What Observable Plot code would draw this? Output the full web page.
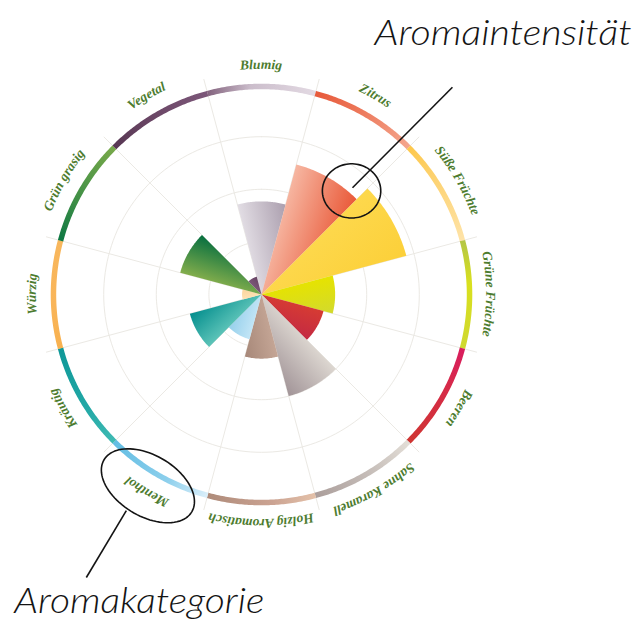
<!DOCTYPE html>
<html><head><meta charset="utf-8">
<script src="https://cdn.jsdelivr.net/npm/d3@7"></script>
<script src="https://cdn.jsdelivr.net/npm/@observablehq/plot@0.6"></script>
<style>body{margin:0;background:#fff}#chart{width:635px;height:644px}</style>
</head><body><div id="chart"></div>
<script>
// ---- data ----
const categories = ["Blumig","Zitrus","Süße Früchte","Grüne Früchte","Beeren","Sahne Karamell","Holzig Aromatisch","Menthol","Kräutig","Würzig","Grün grasig","Vegetal"];
const intensity = [1.77, 2.56, 2.85, 1.40, 1.22, 2.00, 1.22, 0.88, 1.41, 0.37, 1.60, 0.35];
const gridLevels = [1, 2, 3];
const barLight = ["#e1dce3","#f6b5a0","#fdd84c","#e6e300","#d63b33","#dcd6d0","#c4a595","#c2e5f6","#5cc3b8","#fee1b3","#82ad4c","#7c5779"];
const barDark  = ["#aea2b1","#ea5d3d","#fcd03a","#d3da2c","#c42a42","#a4979a","#a8897a","#98d1ec","#07908f","#fbd69f","#0b7140","#684464"];
const ringStart = ["#84647f","#e7593a","#fdc84c","#b4c645","#d91d5e","#e3ded7","#e4c1a9","#dbeffa","#3fbab3","#f8b14f","#0e7843","#573753"];
const ringMid   = ["#cbbdcb","#ec7557","#fdd374","#d9e01e","#d62b47","#c9c1bc","#cba392","#8ccfec","#22a8a6","#f9b559","#3f8f46","#694564"];
const ringEnd   = ["#e3dae3","#f4a68e","#fee3a8","#cfd830","#cf3532","#ab9e9b","#ae8b7a","#62bde3","#0f9898","#f8b75d","#78a94a","#7c5779"];
const annoLabels = ["Aromaintensität", "Aromakategorie"];
const annoTextPos = [[2.15, 4.74], [-4.70, -6.05]];
const annoEllipses = [
  {angle: 41, r: 2.61, rx: 0.555, ry: 0.515, orient: 0},
  {angle: 210.7, r: 4.23, rx: 0.97, ry: 0.58, orient: 210.7}
];
const annoLines = [
  [[1.73, 2.03], [3.63, 3.94]],
  [[-2.57, -4.11], [-3.33, -5.38]]
];

// ---- geometry helpers ----
const W = 635, H = 644, CX = 261, CY = 294, U = 52.6;
const RING = 3.955, LABEL_R = 4.28, SPOKE_R = 4.24, STEP = 30;
const rad = a => a * Math.PI / 180;
const polar = (deg, r) => ({x: r * Math.sin(rad(deg)), y: r * Math.cos(rad(deg))});
const arc = (a0, a1, r, n = 40) => d3.range(n + 1).map(k => polar(a0 + (a1 - a0) * k / n, r));
const ang = i => i * STEP;

const wedgeData = categories.map((c, i) => [{x: 0, y: 0}, ...arc(ang(i) - 15, ang(i) + 15, intensity[i])]);
const gridData = gridLevels.flatMap(l => arc(0, 360, l, 180).map(p => ({...p, level: l})));
const spokeData = categories.map((c, i) => ({a: ang(i) - 15}));
const ringData = categories.map((c, i) => arc(ang(i) - 15, ang(i) + 15, RING, 60));
const ellipsePts = annoEllipses.map(e => {
  const c = polar(e.angle, e.r);
  const T = {x: Math.cos(rad(e.orient)), y: -Math.sin(rad(e.orient))};
  const N = {x: Math.sin(rad(e.orient)), y: Math.cos(rad(e.orient))};
  return d3.range(0, 361, 4).map(t => {
    const u = e.rx * Math.cos(rad(t)), v = e.ry * Math.sin(rad(t));
    return {x: c.x + u * T.x + v * N.x, y: c.y + u * T.y + v * N.y};
  });
});
const lineData = annoLines.map((l, i) => ({x1: l[0][0], y1: l[0][1], x2: l[1][0], y2: l[1][1]}));
const textData = annoLabels.map((t, i) => ({text: t, x: annoTextPos[i][0], y: annoTextPos[i][1]}));

const plot = Plot.plot({
  width: W, height: H,
  margin: 0,
  x: {domain: [-CX / U, (W - CX) / U], range: [0, W], axis: null},
  y: {domain: [-(H - CY) / U, CY / U], range: [H, 0], axis: null},
  marks: [
    Plot.line(gridData, {x: "x", y: "y", z: "level", stroke: "#ebe9e4", strokeWidth: 1}),
    Plot.link(spokeData, {x1: d => 0, y1: d => 0, x2: d => polar(d.a, SPOKE_R).x, y2: d => polar(d.a, SPOKE_R).y, stroke: "#ebe9e4", strokeWidth: 1}),
    ...wedgeData.map((w, i) => Plot.line(w, {x: "x", y: "y", fill: `url(#bar${i})`, stroke: "none"})),
    ...ringData.map((r, i) => Plot.line(r, {x: "x", y: "y", stroke: `url(#ring${i})`, strokeWidth: 5.5, strokeLinecap: "butt"})),
    ...ellipsePts.map(p => Plot.line(p, {x: "x", y: "y", stroke: "#141414", strokeWidth: 1.6})),
    Plot.link(lineData, {x1: "x1", y1: "y1", x2: "x2", y2: "y2", stroke: "#141414", strokeWidth: 1.6}),
    Plot.text(textData, {x: "x", y: "y", text: "text", textAnchor: "start", lineAnchor: "bottom", fontSize: 36, fontFamily: "Lato, 'Open Sans', sans-serif", fontStyle: "italic", fontWeight: 300, fill: "#141414"})
  ]
});

// ---- gradients & curved labels ----
const sx = plot.scale("x"), sy = plot.scale("y");
const X = d3.scaleLinear(sx.domain, sx.range), Y = d3.scaleLinear(sy.domain, sy.range);
const svg = d3.select(plot);
const defs = svg.insert("defs", ":first-child");
categories.forEach((c, i) => {
  const p0 = polar(ang(i) - 15, intensity[i] * 0.85), p1 = polar(ang(i) + 15, intensity[i] * 0.95);
  const g = defs.append("linearGradient").attr("id", `bar${i}`).attr("gradientUnits", "userSpaceOnUse")
    .attr("x1", X(p0.x)).attr("y1", Y(p0.y)).attr("x2", X(p1.x)).attr("y2", Y(p1.y));
  g.append("stop").attr("offset", "0%").attr("stop-color", barLight[i]);
  g.append("stop").attr("offset", "100%").attr("stop-color", barDark[i]);
  const q0 = polar(ang(i) - 15, RING), q1 = polar(ang(i) + 15, RING);
  const h = defs.append("linearGradient").attr("id", `ring${i}`).attr("gradientUnits", "userSpaceOnUse")
    .attr("x1", X(q0.x)).attr("y1", Y(q0.y)).attr("x2", X(q1.x)).attr("y2", Y(q1.y));
  h.append("stop").attr("offset", "0%").attr("stop-color", ringStart[i]);
  h.append("stop").attr("offset", "40%").attr("stop-color", ringMid[i]);
  h.append("stop").attr("offset", "100%").attr("stop-color", ringEnd[i]);
});
const lg = svg.append("g");
categories.forEach((c, i) => {
  const a0 = polar(ang(i) - 40, LABEL_R), a1 = polar(ang(i) + 40, LABEL_R);
  const rpx = X(LABEL_R) - X(0);
  defs.append("path").attr("id", `lp${i}`)
    .attr("d", `M${X(a0.x)},${Y(a0.y)} A${rpx},${rpx} 0 0 1 ${X(a1.x)},${Y(a1.y)}`);
  lg.append("text")
    .attr("font-family", "'Liberation Serif', serif").attr("font-style", "italic").attr("font-weight", "bold")
    .attr("font-size", 13.5).attr("fill", "#4d7c2f")
    .append("textPath").attr("href", `#lp${i}`).attr("startOffset", "50%").attr("text-anchor", "middle").text(c);
});
const annoWidths = [257, 250];
svg.selectAll("text").filter(function(){ return annoLabels.includes(this.textContent); })
  .each(function(){ const i = annoLabels.indexOf(this.textContent); d3.select(this).attr("textLength", annoWidths[i]).attr("lengthAdjust", "spacingAndGlyphs"); });

document.getElementById("chart").appendChild(plot);
</script>
</body></html>
